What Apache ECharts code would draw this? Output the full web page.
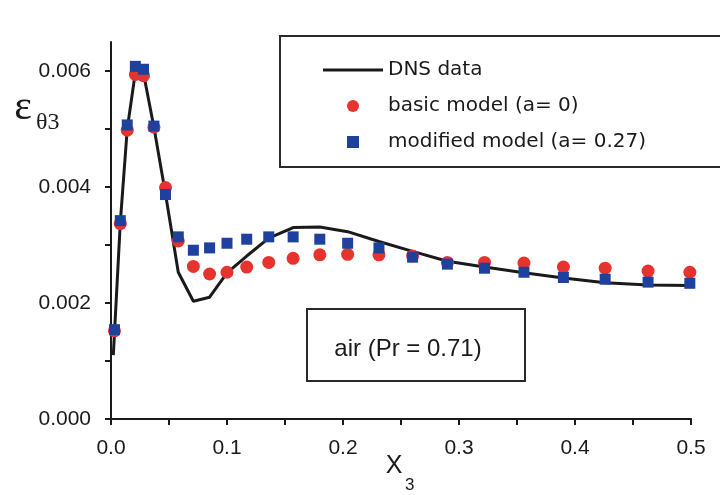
<!DOCTYPE html>
<html>
<head>
<meta charset="utf-8">
<script src="https://cdn.jsdelivr.net/npm/echarts@6/dist/echarts.min.js"></script>
<style>
html,body{margin:0;padding:0;background:#fff;}
#chart{width:720px;height:495px;}
</style>
</head>
<body>
<div id="chart"></div>
<script>
// x positions of the model points
const modelX = [0.003, 0.008, 0.014, 0.021, 0.028, 0.037, 0.047, 0.058, 0.071, 0.085, 0.100, 0.117, 0.136, 0.157, 0.180, 0.204, 0.231, 0.260, 0.290, 0.322, 0.356, 0.390, 0.426, 0.463, 0.499];
// basic model (a = 0)
const basicY = [0.00152, 0.00337, 0.00498, 0.00594, 0.00592, 0.00503, 0.00399, 0.00307, 0.00263, 0.00250, 0.00253, 0.00262, 0.00270, 0.00277, 0.00283, 0.00284, 0.00283, 0.00281, 0.00270, 0.00270, 0.00269, 0.00262, 0.00260, 0.00255, 0.00253];
// modified model (a = 0.27)
const modifiedY = [0.00154, 0.00342, 0.00507, 0.00608, 0.00603, 0.00505, 0.00387, 0.00314, 0.00291, 0.00295, 0.00303, 0.00310, 0.00314, 0.00314, 0.00310, 0.00303, 0.00295, 0.00279, 0.00267, 0.00260, 0.00253, 0.00244, 0.00241, 0.00236, 0.00234];
// DNS data
const dnsX = [0.002, 0.008, 0.014, 0.021, 0.028, 0.037, 0.047, 0.058, 0.071, 0.085, 0.100, 0.117, 0.136, 0.157, 0.180, 0.204, 0.231, 0.260, 0.290, 0.322, 0.356, 0.390, 0.426, 0.463, 0.499];
const dnsY = [0.00110, 0.00338, 0.00500, 0.00598, 0.00596, 0.00503, 0.00388, 0.00253, 0.00203, 0.00210, 0.00252, 0.00281, 0.00312, 0.00330, 0.00331, 0.00323, 0.00306, 0.00289, 0.00272, 0.00262, 0.00252, 0.00243, 0.00235, 0.00231, 0.00230];
// axis tick labels
const xTickLabels = ['0.0', '0.1', '0.2', '0.3', '0.4', '0.5'];
const yTickLabels = ['0.000', '0.002', '0.004', '0.006'];
const seriesNames = ['DNS data', 'basic model (a= 0)', 'modified model (a= 0.27)'];

const pair = (xs, ys) => xs.map((x, i) => [x, ys[i]]);

const chart = echarts.init(document.getElementById('chart'), null, {renderer: 'canvas'});
const axisColor = '#1a1a1a';
const tickFont = {fontFamily: 'Liberation Sans', fontSize: 21, color: '#1a1a1a'};

chart.setOption({
  animation: false,
  backgroundColor: '#ffffff',
  grid: {left: 111, right: 29, top: 42, bottom: 76},
  xAxis: {
    type: 'value', min: 0, max: 0.5, interval: 0.05,
    axisLine: {show: true, lineStyle: {color: axisColor, width: 2}},
    axisTick: {show: true, length: 6, lineStyle: {color: axisColor, width: 2}},
    splitLine: {show: false},
    axisLabel: Object.assign({
      margin: 19,
      formatter: v => {
        const k = Math.round(v * 100);
        return k % 10 === 0 ? xTickLabels[k / 10] : '';
      }
    }, tickFont)
  },
  yAxis: {
    type: 'value', min: 0, max: 0.0065, interval: 0.001,
    axisLine: {show: true, lineStyle: {color: axisColor, width: 2}},
    axisTick: {show: true, length: 6, lineStyle: {color: axisColor, width: 2}},
    splitLine: {show: false},
    axisLabel: Object.assign({
      margin: 20,
      showMaxLabel: false,
      formatter: v => {
        const k = Math.round(v * 10000);
        return (k % 20 === 0) ? yTickLabels[k / 20] : '';
      }
    }, tickFont)
  },
  legend: {
    orient: 'vertical',
    left: 323, top: 60, padding: 0,
    itemWidth: 60, itemHeight: 12, itemGap: 16,
    symbolKeepAspect: true,
    data: [
      {name: seriesNames[0], icon: 'path://M0,0L60,0L60,3L0,3Z'},
      {name: seriesNames[1], icon: 'circle'},
      {name: seriesNames[2], icon: 'path://M0,0L10,0L10,10L0,10Z'}
    ],
    textStyle: {fontFamily: 'DejaVu Sans', fontSize: 20, color: '#1a1a1a', lineHeight: 20},
    selectedMode: false
  },
  series: [
    {
      name: seriesNames[0], type: 'line', data: pair(dnsX, dnsY),
      symbol: 'none', smooth: false,
      lineStyle: {color: '#1a1a1a', width: 3},
      itemStyle: {color: '#1a1a1a'}, z: 2
    },
    {
      name: seriesNames[1], type: 'scatter', data: pair(modelX, basicY),
      symbol: 'circle', symbolSize: 13,
      itemStyle: {color: '#e6332d', opacity: 1}, z: 3
    },
    {
      name: seriesNames[2], type: 'scatter', data: pair(modelX, modifiedY),
      symbol: 'rect', symbolSize: 11,
      itemStyle: {color: '#1e419e', opacity: 1}, z: 4
    }
  ],
  graphic: [
    {type: 'rect', shape: {x: 280, y: 36, width: 446, height: 131}, style: {fill: 'none', stroke: '#2a2a2a', lineWidth: 2}, z: 1},
    {type: 'rect', shape: {x: 307, y: 309, width: 218, height: 72}, style: {fill: 'none', stroke: '#2a2a2a', lineWidth: 2}, z: 1},
    {type: 'text', x: 408, y: 349, style: {text: 'air (Pr = 0.71)', fontFamily: 'Liberation Sans', fontSize: 24, fill: '#1a1a1a', align: 'center', verticalAlign: 'middle'}, z: 5},
    {type: 'text', x: 23, y: 108, style: {text: 'ε', fontFamily: 'Liberation Serif', fontSize: 42, fill: '#1a1a1a', align: 'center', verticalAlign: 'middle'}, z: 5},
    {type: 'text', x: 36, y: 123, style: {text: 'θ3', fontFamily: 'Liberation Serif', fontSize: 24, fill: '#1a1a1a', align: 'left', verticalAlign: 'middle'}, z: 5},
    {type: 'text', x: 394, y: 466, style: {text: 'X', fontFamily: 'Liberation Sans', fontSize: 25, fill: '#1a1a1a', align: 'center', verticalAlign: 'middle'}, z: 5},
    {type: 'text', x: 405, y: 485, style: {text: '3', fontFamily: 'Liberation Sans', fontSize: 17, fill: '#1a1a1a', align: 'left', verticalAlign: 'middle'}, z: 5}
  ]
});
</script>
</body>
</html>
